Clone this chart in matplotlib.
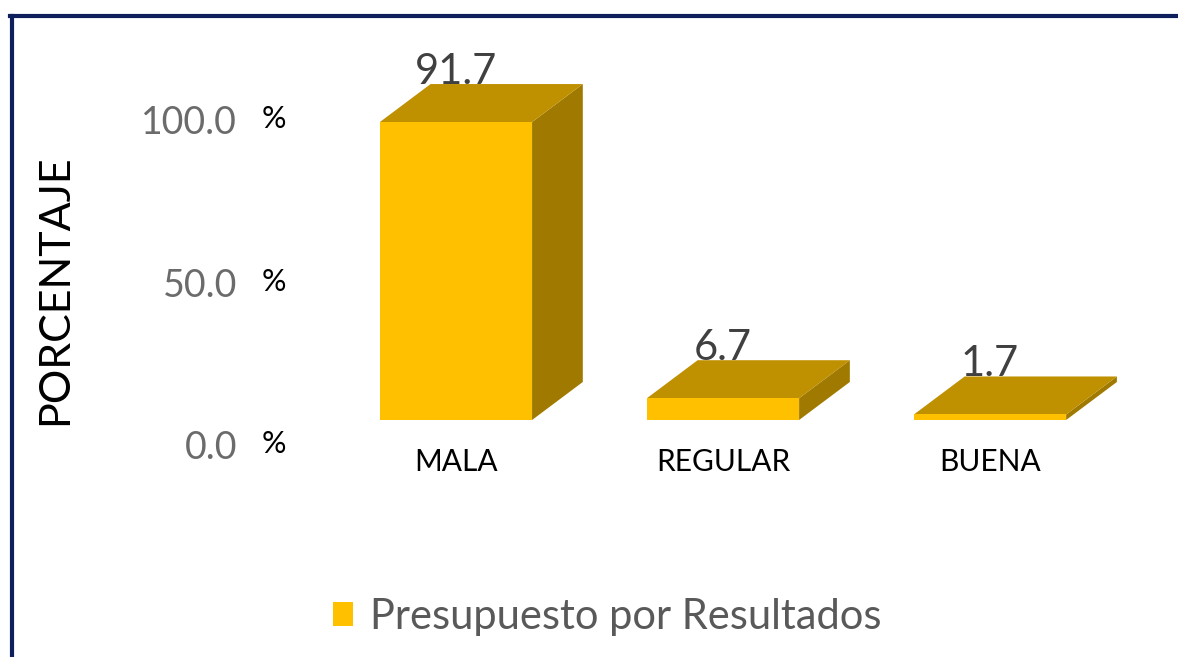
import matplotlib
matplotlib.use('Agg')
import matplotlib.pyplot as plt
from matplotlib.patches import Polygon, Patch
from matplotlib.lines import Line2D
from matplotlib.transforms import ScaledTranslation

plt.rcParams['font.family'] = ['Lato', 'DejaVu Sans']

# Datos
categorias = ['MALA', 'REGULAR', 'BUENA']
porcentajes = [91.7, 6.7, 1.7]
ticks_y = [0, 50, 100]
serie = 'Presupuesto por Resultados'

# Colores de las caras de la barra 3D
c_frente = '#FFC000'
c_arriba = '#BF9000'
c_lado = '#A07A00'
c_borde = '#0D1F5C'

W, H, DPI = 1178, 657, 100
fig = plt.figure(figsize=(W / DPI, H / DPI), dpi=DPI)

# eje en pixeles: x 300..1150, y 60..420
ax = fig.add_axes([300 / W, (H - 420) / H, 850 / W, 360 / H])
ax.set_xlim(-0.584, 2.599)
ax.set_ylim(0, 110.8)

ancho = 0.57
dx = 0.19   # profundidad en x (unidades de categoria)
dy = 11.7   # profundidad en y (unidades de porcentaje)

x = list(range(len(categorias)))
ax.bar(x, porcentajes, width=ancho, color=c_frente, zorder=3, label=serie)

for xi, v in zip(x, porcentajes):
    izq, der = xi - ancho / 2, xi + ancho / 2
    arriba = Polygon([(izq, v), (der, v), (der + dx, v + dy), (izq + dx, v + dy)],
                     closed=True, facecolor=c_arriba, edgecolor='none', zorder=2)
    lado = Polygon([(der, 0), (der + dx, dy), (der + dx, v + dy), (der, v)],
                   closed=True, facecolor=c_lado, edgecolor='none', zorder=2)
    ax.add_patch(lado)
    ax.add_patch(arriba)
    off = ScaledTranslation(0, 12 / DPI, fig.dpi_scale_trans)
    ax.text(xi, v + dy, f'{v:.1f}', ha='center', va='center', fontsize=30,
            color='#404040', transform=ax.transData + off, zorder=5)

# etiquetas de categoria
ax.set_xticks(x)
ax.set_xticklabels(categorias, fontsize=21.5, color='black')
ax.tick_params(axis='x', length=0, pad=20)
ax.set_yticks([])
for s in ax.spines.values():
    s.set_visible(False)

# etiquetas del eje y (numero gris + % negro)
off_y = ScaledTranslation(0, -28 / DPI, fig.dpi_scale_trans)
for t in ticks_y:
    ax.text(-0.074, t, f'{t:.1f}', ha='right', va='center', fontsize=27,
            color='#6b6b6b', transform=ax.get_yaxis_transform() + off_y)
    ax.text(-0.045, t, '%', ha='left', va='center', fontsize=22,
            color='black', transform=ax.get_yaxis_transform() + off_y
            + ScaledTranslation(0, 4 / DPI, fig.dpi_scale_trans))

fig.text(55 / W, 1 - 290 / H, 'PORCENTAJE', rotation=90, ha='center', va='center',
         fontsize=31, color='black')

# leyenda
leg = fig.legend(handles=[Patch(facecolor=c_frente, edgecolor='none', label=serie)],
                 loc='center', bbox_to_anchor=(607 / W, 1 - 617 / H), frameon=False,
                 fontsize=30, handlelength=0.5, handleheight=0.5, handletextpad=0.4)
for t in leg.get_texts():
    t.set_color('#595959')

# marco azul (arriba e izquierda)
fig.add_artist(Line2D([10 / W, 1], [1 - 16 / H, 1 - 16 / H], color=c_borde, lw=3,
                      transform=fig.transFigure))
fig.add_artist(Line2D([12 / W, 12 / W], [0, 1 - 16 / H], color=c_borde, lw=3,
                      transform=fig.transFigure))

fig.savefig('out.png', dpi=DPI)
